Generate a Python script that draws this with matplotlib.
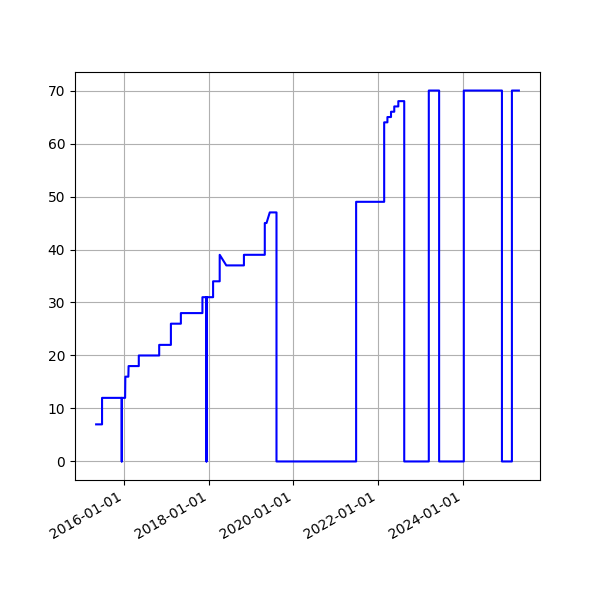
import matplotlib
matplotlib.use("Agg")
import matplotlib.pyplot as plt
import matplotlib.dates as mdates
import pandas as pd

# Fechas y valores
fechas = [
    "2015-05-05", "2015-06-25", "2015-06-25", "2015-12-12", "2015-12-12", "2015-12-12",
    "2016-01-10", "2016-01-12", "2016-02-07", "2016-02-09", "2016-05-07", "2016-05-07",
    "2016-10-30", "2016-10-30", "2017-02-08", "2017-02-08", "2017-05-05", "2017-05-05",
    "2017-11-07", "2017-11-07", "2017-12-12", "2017-12-12", "2017-12-12", "2018-02-07",
    "2018-02-07", "2018-04-05", "2018-04-05", "2018-06-01", "2018-10-31", "2018-10-31",
    "2019-04-29", "2019-04-29", "2019-05-14", "2019-06-11", "2019-08-08", "2019-08-08",
    "2021-06-25", "2021-06-25", "2022-02-22", "2022-02-22", "2022-03-22", "2022-03-22",
    "2022-04-22", "2022-04-22", "2022-05-20", "2022-05-20", "2022-06-24", "2022-06-24",
    "2022-08-14", "2022-08-14", "2023-03-14", "2023-03-14", "2023-06-11", "2023-06-11",
    "2024-01-10", "2024-01-10", "2024-12-04", "2024-12-04", "2025-02-28", "2025-02-28",
    "2025-04-29",
]
valores = [
    7, 7, 12, 12, 0, 12,
    12, 16, 16, 18, 18, 20,
    20, 22, 22, 26, 26, 28,
    28, 31, 31, 0, 31, 31,
    34, 34, 39, 37, 37, 39,
    39, 45, 45, 47, 47, 0,
    0, 49, 49, 64, 64, 65,
    65, 66, 66, 67, 67, 68,
    68, 0, 0, 70, 70, 0,
    0, 70, 70, 0, 0, 70,
    70,
]

fechas = pd.to_datetime(fechas)

fig, ax = plt.subplots(figsize=(6, 6), dpi=100)
ax.plot(fechas, valores, color='blue', linewidth=1.5)
ax.xaxis.set_major_locator(mdates.YearLocator(2))
ax.xaxis.set_major_formatter(mdates.DateFormatter('%Y-%m-%d'))
ax.grid(True)
fig.autofmt_xdate()
plt.savefig("out.png")
